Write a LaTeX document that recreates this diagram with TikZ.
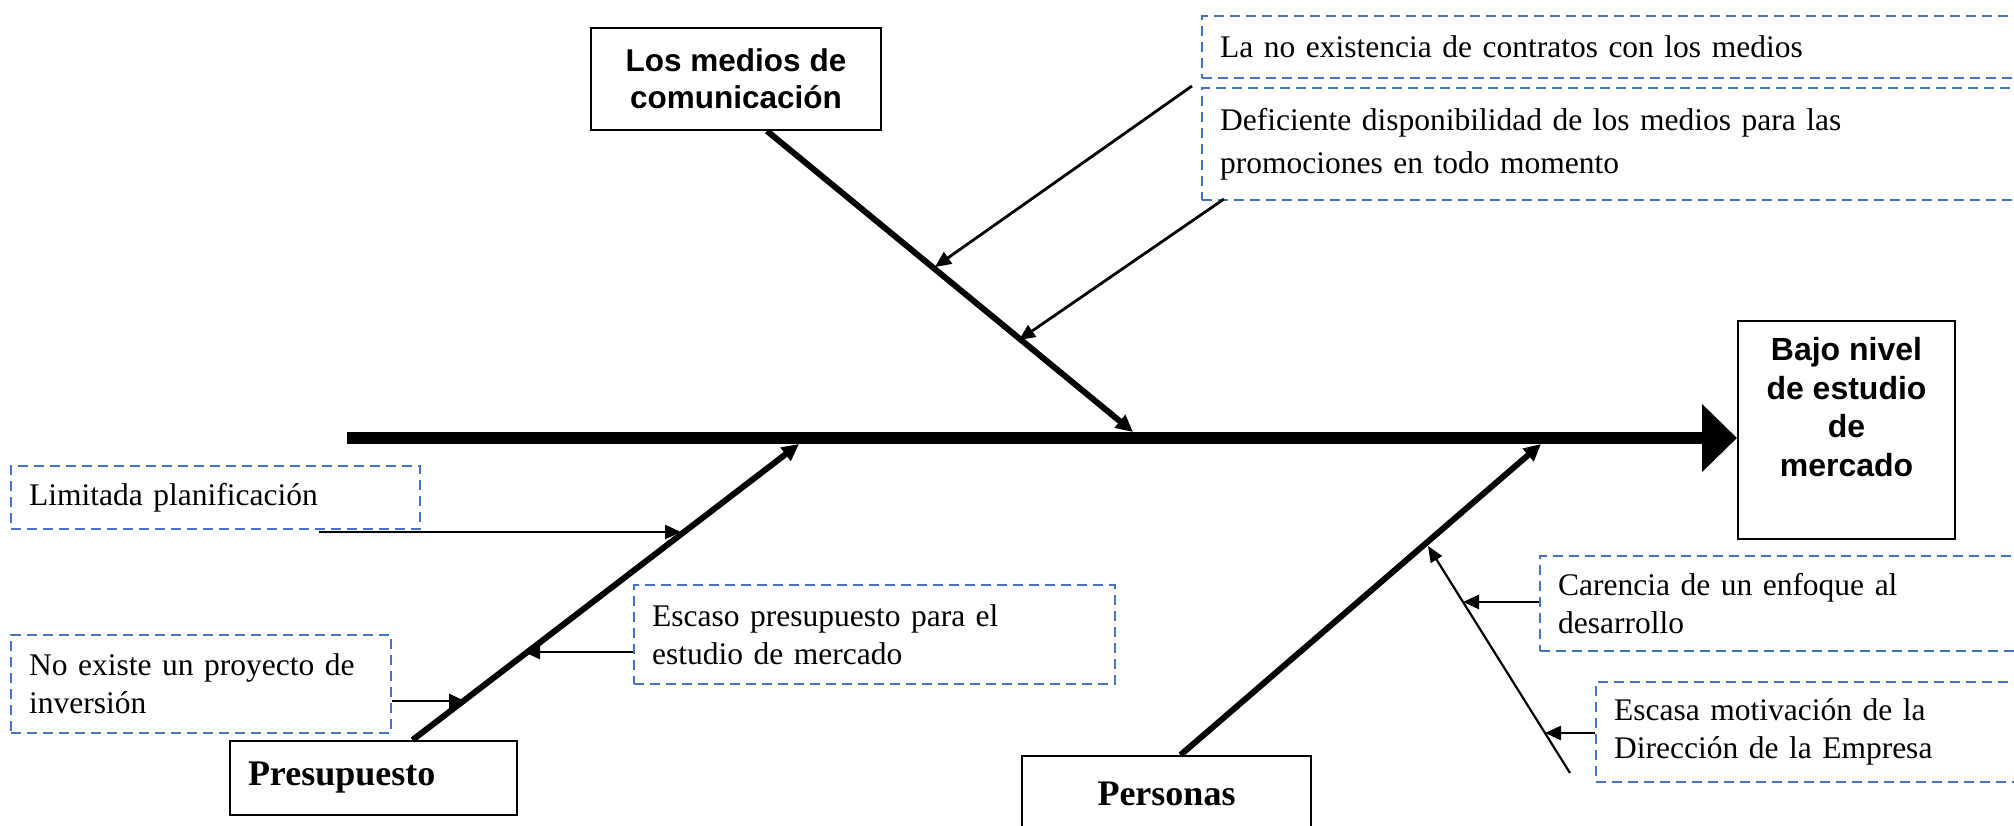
\documentclass[tikz,border=0pt]{standalone}
\usepackage{fontspec}
\setmainfont{Liberation Serif}
\newfontfamily\arialfont{Liberation Sans}
\usetikzlibrary{arrows.meta}
\definecolor{cblue}{HTML}{4472C4}
\begin{document}
\begin{tikzpicture}[x=1pt,y=-1pt,
  callout/.style={draw=cblue, dash pattern=on 10pt off 6pt, line width=2.2pt, anchor=north west,
    inner xsep=18pt, inner ysep=0pt, align=left, font=\fontsize{31.5}{38}\selectfont},
  solidbox/.style={draw=black, line width=2pt, inner sep=0pt},
  bone/.style={line width=6pt, -{Triangle[length=17pt,width=16pt]}},
  causearrow/.style={line width=2.8pt, -{Triangle[length=16pt,width=14pt]}},
  thinline/.style={line width=2.2pt, -{Triangle[length=16pt,width=13pt]}},
  spine/.style={line width=12pt, -{Triangle[length=35pt,width=66pt]}}]
\clip (0,0) rectangle (2014,826);
\fill[white] (0,0) rectangle (2014,826);

% head and category boxes
\node[solidbox, minimum width=217pt, minimum height=218pt] (effect) at (1846.5,430) {};
\node[font=\arialfont\bfseries\fontsize{32}{38.5}\selectfont, align=center, inner sep=0pt] (efftxt) at (1846.5,407) {Bajo nivel\\de estudio\\de\\mercado};
\node[solidbox, minimum width=290pt, minimum height=102pt, align=center,
  font=\arialfont\bfseries\fontsize{31.5}{37}\selectfont] (medios) at (736,79) {Los medios de\\comunicación};
\node[solidbox, anchor=north west, minimum width=287pt, minimum height=74pt, text width=251pt,
  inner xsep=18pt, align=left, font=\bfseries\fontsize{36}{40}\selectfont] (presup) at (229,740) {Presupuesto};
\node[solidbox, anchor=north west, minimum width=289pt, minimum height=76pt, align=center,
  font=\bfseries\fontsize{36}{40}\selectfont] (personas) at (1021,755) {Personas};

% cause callouts
\node[callout, text width=800pt, minimum height=62pt] (cA) at (1201,15) {La no existencia de contratos con los medios};
\node[callout, text width=800pt, minimum height=112pt, font=\fontsize{31.5}{43}\selectfont] (cB) at (1201,87) {Deficiente disponibilidad de los medios para las\\promociones en todo momento};
\node[callout, text width=373pt, minimum height=63pt] (lim) at (10,465) {Limitada planificación};
\node[callout, text width=445pt, minimum height=99pt] (escaso) at (633,584) {Escaso presupuesto para el\\estudio de mercado};
\node[callout, text width=344pt, minimum height=98pt] (noex) at (10,634) {No existe un proyecto de\\inversión};
\node[callout, text width=800pt, minimum height=95pt] (caren) at (1539,555) {Carencia de un enfoque al\\desarrollo};
\node[callout, text width=800pt, minimum height=100pt] (escasa) at (1595,681) {Escasa motivación de la\\Dirección de la Empresa};

% coordinates
\coordinate (spineL) at (347,438);
\coordinate (b1e) at (1133,432);
\coordinate (b2e) at (799,444);
\coordinate (b3e) at (1541,444);
\coordinate (a1s) at (1192,86);
\coordinate (a1e) at (935,267);
\coordinate (a2s) at (1224,199);
\coordinate (a2e) at (1019,340);
\coordinate (l1s) at (319,532);
\coordinate (l1e) at (681,532);
\coordinate (t3) at (524,652);
\coordinate (t4) at (465,701);
\coordinate (ts) at (1570,773);
\coordinate (te) at (1428,546);
\coordinate (t5) at (1463,602);
\coordinate (t6) at (1545,733);

% spine and bones
\draw[spine] (spineL) -- (spineL -| effect.west);
\draw[bone] ([xshift=31pt]medios.south) -- (b1e);
\draw[bone] ([xshift=39pt]presup.north) -- (b2e);
\draw[bone] ([xshift=14pt]personas.north) -- (b3e);

% cause arrows
\draw[causearrow] (a1s) -- (a1e);
\draw[causearrow] (a2s) -- (a2e);
\draw[causearrow] (l1s) -- (l1e);
\draw[causearrow] (escaso.west |- t3) -- (t3);
\draw[causearrow] (noex.east |- t4) -- (t4);
\draw[thinline] (ts) -- (te);
\draw[causearrow] (caren.west |- t5) -- (t5);
\draw[causearrow] (escasa.west |- t6) -- (t6);
\end{tikzpicture}
\end{document}
